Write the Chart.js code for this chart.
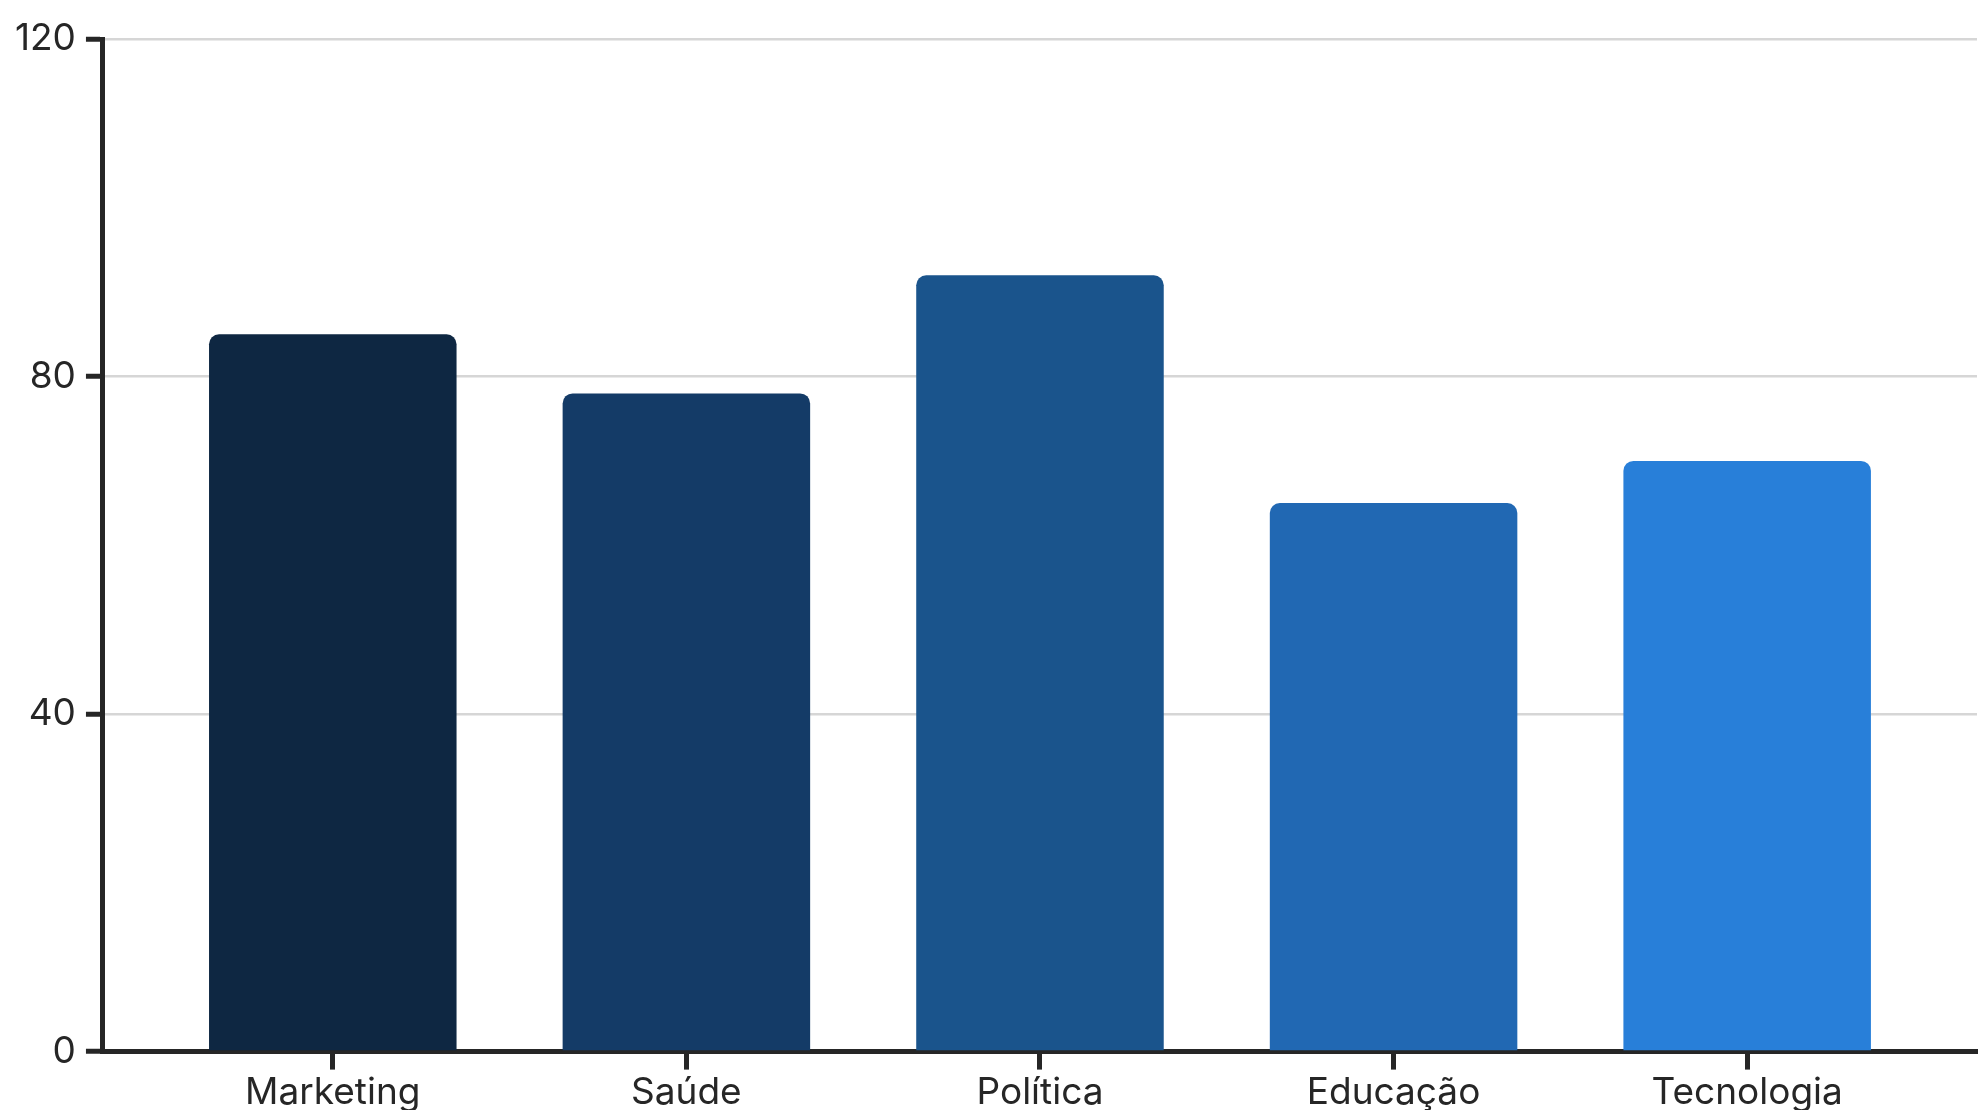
<!DOCTYPE html>
<html>
<head>
<meta charset="utf-8">
<script src="https://cdn.jsdelivr.net/npm/chart.js@4.4.1/dist/chart.umd.min.js"></script>
<style>
html,body{margin:0;padding:0;background:#fff;overflow:hidden}
#wrap{width:1986px;height:1116px;position:relative}
</style>
</head>
<body>
<div id="wrap"><canvas id="chart"></canvas></div>
<script>
const categories = ['Marketing', 'Saúde', 'Política', 'Educação', 'Tecnologia'];
const values = [85, 78, 92, 65, 70];
const barColors = ['#0e2742', '#143b67', '#1a548c', '#2168b3', '#287fd9'];
const yTicks = [0, 40, 80, 120];

const axisColor = '#262626';
const font = {family: 'Inter', size: 37};

new Chart(document.getElementById('chart'), {
  type: 'bar',
  data: {
    labels: categories,
    datasets: [{
      data: values,
      backgroundColor: barColors,
      borderRadius: 10,
      categoryPercentage: 1,
      barPercentage: 0.7
    }]
  },
  options: {
    responsive: true,
    maintainAspectRatio: false,
    animation: false,
    layout: {padding: {left: 5, right: 9, top: 39, bottom: 0}},
    plugins: {legend: {display: false}, tooltip: {enabled: false}},
    scales: {
      x: {
        offset: true,
        // band-style outer padding, like the original chart
        afterBuildTicks: s => { s._startValue = -0.65; s._valueRange = categories.length + 0.3; },
        grid: {drawOnChartArea: false, offset: false, tickLength: 18, tickWidth: 5, tickColor: axisColor},
        border: {color: axisColor, width: 5},
        ticks: {color: axisColor, font: font, padding: 1, maxRotation: 0, autoSkip: false}
      },
      y: {
        min: yTicks[0],
        max: yTicks[yTicks.length - 1],
        afterBuildTicks: s => { s.ticks = yTicks.map(v => ({value: v})); },
        grid: {color: '#d6d6d6', lineWidth: 2.5, tickLength: 17, tickWidth: 5, tickColor: axisColor},
        border: {color: axisColor, width: 5},
        ticks: {color: axisColor, font: font, padding: 10}
      }
    }
  }
});
</script>
</body>
</html>
